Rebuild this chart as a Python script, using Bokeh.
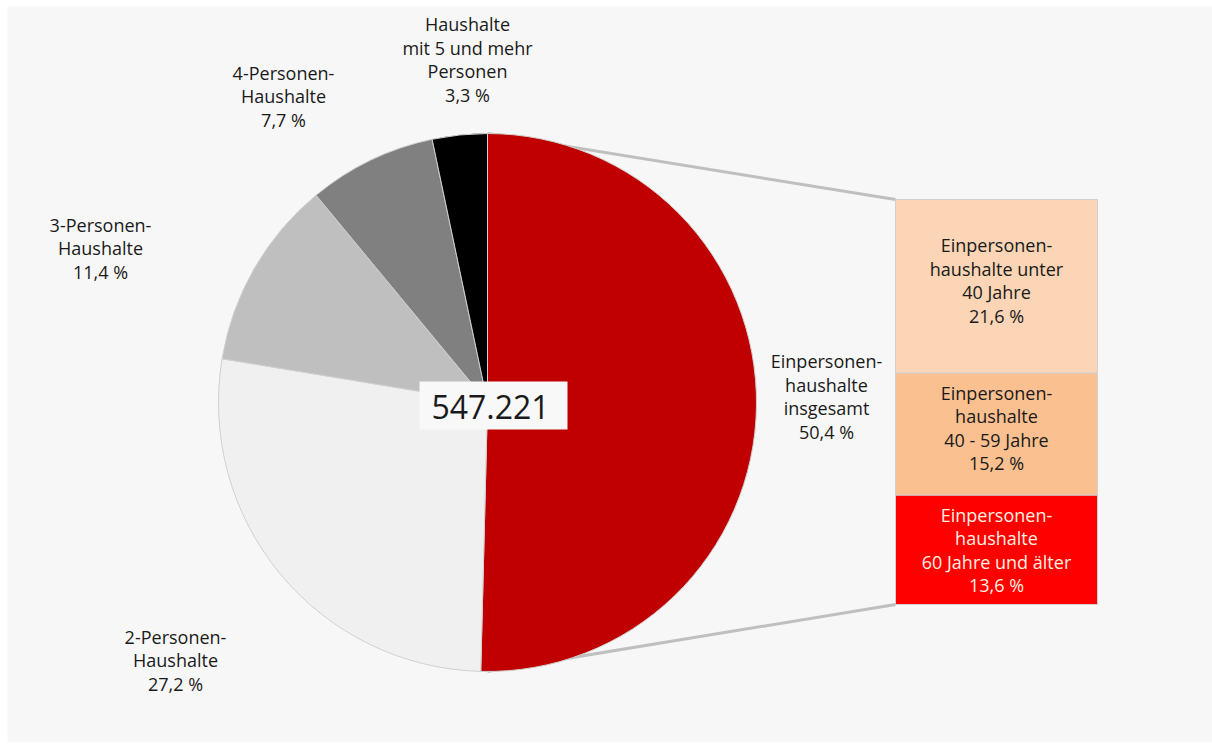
import math
from bokeh.plotting import figure
from bokeh.models import Range1d, ColumnDataSource
from bokeh.core.properties import value
from bokeh.embed import file_html
from bokeh.resources import INLINE

# ---- data ----
main_labels = ["Einpersonen-\nhaushalte\ninsgesamt\n50,4 %",
               "2-Personen-\nHaushalte\n27,2 %",
               "3-Personen-\nHaushalte\n11,4 %",
               "4-Personen-\nHaushalte\n7,7 %",
               "Haushalte\nmit 5 und mehr\nPersonen\n3,3 %"]
main_values = [50.4, 27.2, 11.4, 7.7, 3.3]
main_colors = ["#c00000", "#f0f0f0", "#bfbfbf", "#808080", "#000000"]

sub_labels = ["Einpersonen-\nhaushalte unter\n40 Jahre\n21,6 %",
              "Einpersonen-\nhaushalte\n40 - 59 Jahre\n15,2 %",
              "Einpersonen-\nhaushalte\n60 Jahre und älter\n13,6 %"]
sub_values = [21.6, 15.2, 13.6]
sub_colors = ["#fbd5b5", "#fac090", "#ff0000"]
sub_text_colors = ["#1a1a1a", "#1a1a1a", "#fff0e0"]

total_label = "547.221"

# ---- layout (page pixel coords) ----
W, H = 1212, 751
def X(px): return px
def Y(py): return H - py

cx, cy, r = X(487), Y(402), 269
box_left, box_right = X(895), X(1097)
box_top, box_bottom = Y(199), Y(604)
sub_label_shift = [6, 6, 0]

label_pos = [(826, 396), (175, 660), (100, 248), (283, 96), (467, 59)]

FONT = value("Open Sans")
FS = "18px"
LH = 0.98

p = figure(width=W, height=H, x_range=Range1d(7, W), y_range=Range1d(9, 745),
           output_backend="svg", toolbar_location=None,
           min_border_left=7, min_border_top=6, min_border_right=0, min_border_bottom=9)
p.axis.visible = False
p.grid.visible = False
p.outline_line_color = None
p.background_fill_color = "#f7f7f7"
p.border_fill_color = "#ffffff"

# connectors
total = sum(main_values)
p.line([cx, box_left], [cy + r, box_top], line_color="#bfbfbf", line_width=3)
p.line([cx, box_left], [cy - r, box_bottom], line_color="#bfbfbf", line_width=3)

# pie
starts, ends = [], []
cum = 0.0
for v in main_values:
    starts.append(math.pi / 2 - 2 * math.pi * cum / total)
    cum += v
    ends.append(math.pi / 2 - 2 * math.pi * cum / total)
src = ColumnDataSource(dict(start=starts, end=ends, color=main_colors,
                            x=[cx] * 5, y=[cy] * 5))
p.wedge(x="x", y="y", radius=r, start_angle="start", end_angle="end",
        direction="clock", fill_color="color", line_color="#d0d0d0",
        line_width=1, source=src)

# bar of pie
scale = (box_top - box_bottom) / sum(sub_values)
tops, bottoms = [], []
acc = box_top
for v in sub_values:
    tops.append(acc)
    acc -= v * scale
    bottoms.append(acc)
p.quad(left=[box_left] * 3, right=[box_right] * 3, top=tops, bottom=bottoms,
       fill_color=sub_colors, line_color="#d0d0d0", line_width=1)

# sub labels
p.text(x=[(box_left + box_right) / 2] * 3,
       y=[(t + b) / 2 + s for t, b, s in zip(tops, bottoms, sub_label_shift)],
       text=sub_labels, text_align="center", text_baseline="middle",
       text_font=FONT, text_font_size=FS, text_color=sub_text_colors,
       text_line_height=LH)

# main labels
p.text(x=[X(a) for a, b in label_pos], y=[Y(b) for a, b in label_pos],
       text=main_labels, text_align="center", text_baseline="middle",
       text_font=FONT, text_font_size=FS, text_color="#1a1a1a",
       text_line_height=LH)

# center total
p.quad(left=[X(419)], right=[X(567)], top=[Y(381)], bottom=[Y(429)],
       fill_color="#f8f8f8", line_color=None)
p.text(x=[X(490)], y=[Y(406)], text=[total_label], text_align="center",
       text_baseline="middle", text_font=FONT, text_font_size="32px",
       text_color="#1a1a1a")

open("out.html", "w").write(file_html(p, INLINE))
